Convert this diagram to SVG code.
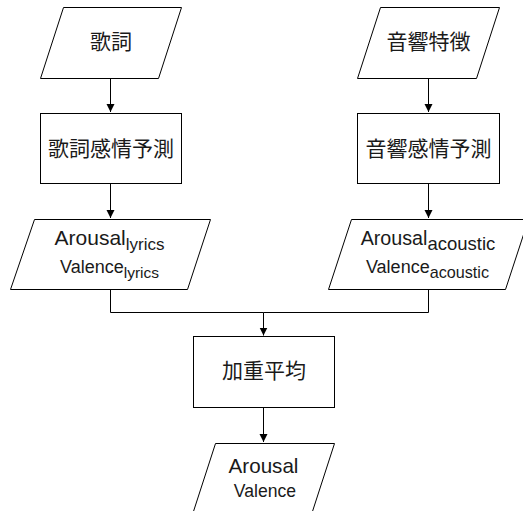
<svg xmlns="http://www.w3.org/2000/svg" width="523" height="511" viewBox="0 0 523 511">
<style>
.s{fill:#fff;stroke:#000;stroke-width:1}
.c{fill:none;stroke:#000;stroke-width:1}
.j{font-family:"Noto Sans CJK JP","Noto Sans CJK SC",sans-serif;font-size:21px;fill:#1a1a1a;text-anchor:middle}
.l{font-family:"Liberation Sans",Arial,sans-serif;fill:#1a1a1a;text-anchor:middle}
</style>
<defs>
<marker id="a" markerWidth="10" markerHeight="10" refX="8" refY="4" orient="auto" markerUnits="userSpaceOnUse">
<path d="M0,0 L8,4 L0,8 Z" fill="#000"/>
</marker>
</defs>
<rect width="523" height="511" fill="#fff"/>
<g id="connectors">
<path class="c" d="M110.5,78.5 V112" marker-end="url(#a)"/>
<path class="c" d="M428.5,78.5 V112" marker-end="url(#a)"/>
<path class="c" d="M110.5,183.5 V218" marker-end="url(#a)"/>
<path class="c" d="M428.5,183.5 V218" marker-end="url(#a)"/>
<path class="c" d="M110.5,289.5 V312.5 H263.5 V335.5" marker-end="url(#a)"/>
<path class="c" d="M428.5,289.5 V312.5 H263.5"/>
<path class="c" d="M263.5,407.5 V442" marker-end="url(#a)"/>
</g>
<g id="lyrics">
<polygon class="s" points="63.5,7.5 181.5,7.5 158.5,78.5 40.5,78.5"/>
<text class="j" x="111" y="49">歌詞</text>
</g>
<g id="acoustic">
<polygon class="s" points="380.5,7.5 499.5,7.5 476.5,78.5 357.5,78.5"/>
<text class="j" x="428.5" y="49">音響特徴</text>
</g>
<g id="lyricsPredict">
<rect class="s" x="40.5" y="113.5" width="141" height="70"/>
<text class="j" x="111" y="156">歌詞感情予測</text>
</g>
<g id="acousticPredict">
<rect class="s" x="357.5" y="113.5" width="142" height="70"/>
<text class="j" x="428.5" y="156">音響感情予測</text>
</g>
<g id="lyricsOut">
<polygon class="s" points="34.5,219.5 210.5,219.5 187.5,289.5 10.5,289.5"/>
<text class="l" x="109.5" y="245" font-size="21">Arousal<tspan font-size="17" dy="5">lyrics</tspan></text>
<text class="l" x="109.5" y="272.5" font-size="18">Valence<tspan font-size="15.5" dy="5">lyrics</tspan></text>
</g>
<g id="acousticOut">
<polygon class="s" points="351.5,219.5 528.5,219.5 505.5,289.5 328.5,289.5"/>
<text class="l" x="428" y="245" font-size="19.7">Arousal<tspan font-size="18.5" dy="5">acoustic</tspan></text>
<text class="l" x="427.5" y="273" font-size="18">Valence<tspan font-size="16.2" dy="5">acoustic</tspan></text>
</g>
<g id="average">
<rect class="s" x="193.5" y="336.5" width="141" height="71"/>
<text class="j" x="264" y="378">加重平均</text>
</g>
<g id="result">
<polygon class="s" points="215.5,443.5 334.5,443.5 311.5,514.5 192.5,514.5"/>
<text class="l" x="263.5" y="472.5" font-size="20.6">Arousal</text>
<text class="l" x="265" y="496.7" font-size="17.6">Valence</text>
</g>
</svg>
